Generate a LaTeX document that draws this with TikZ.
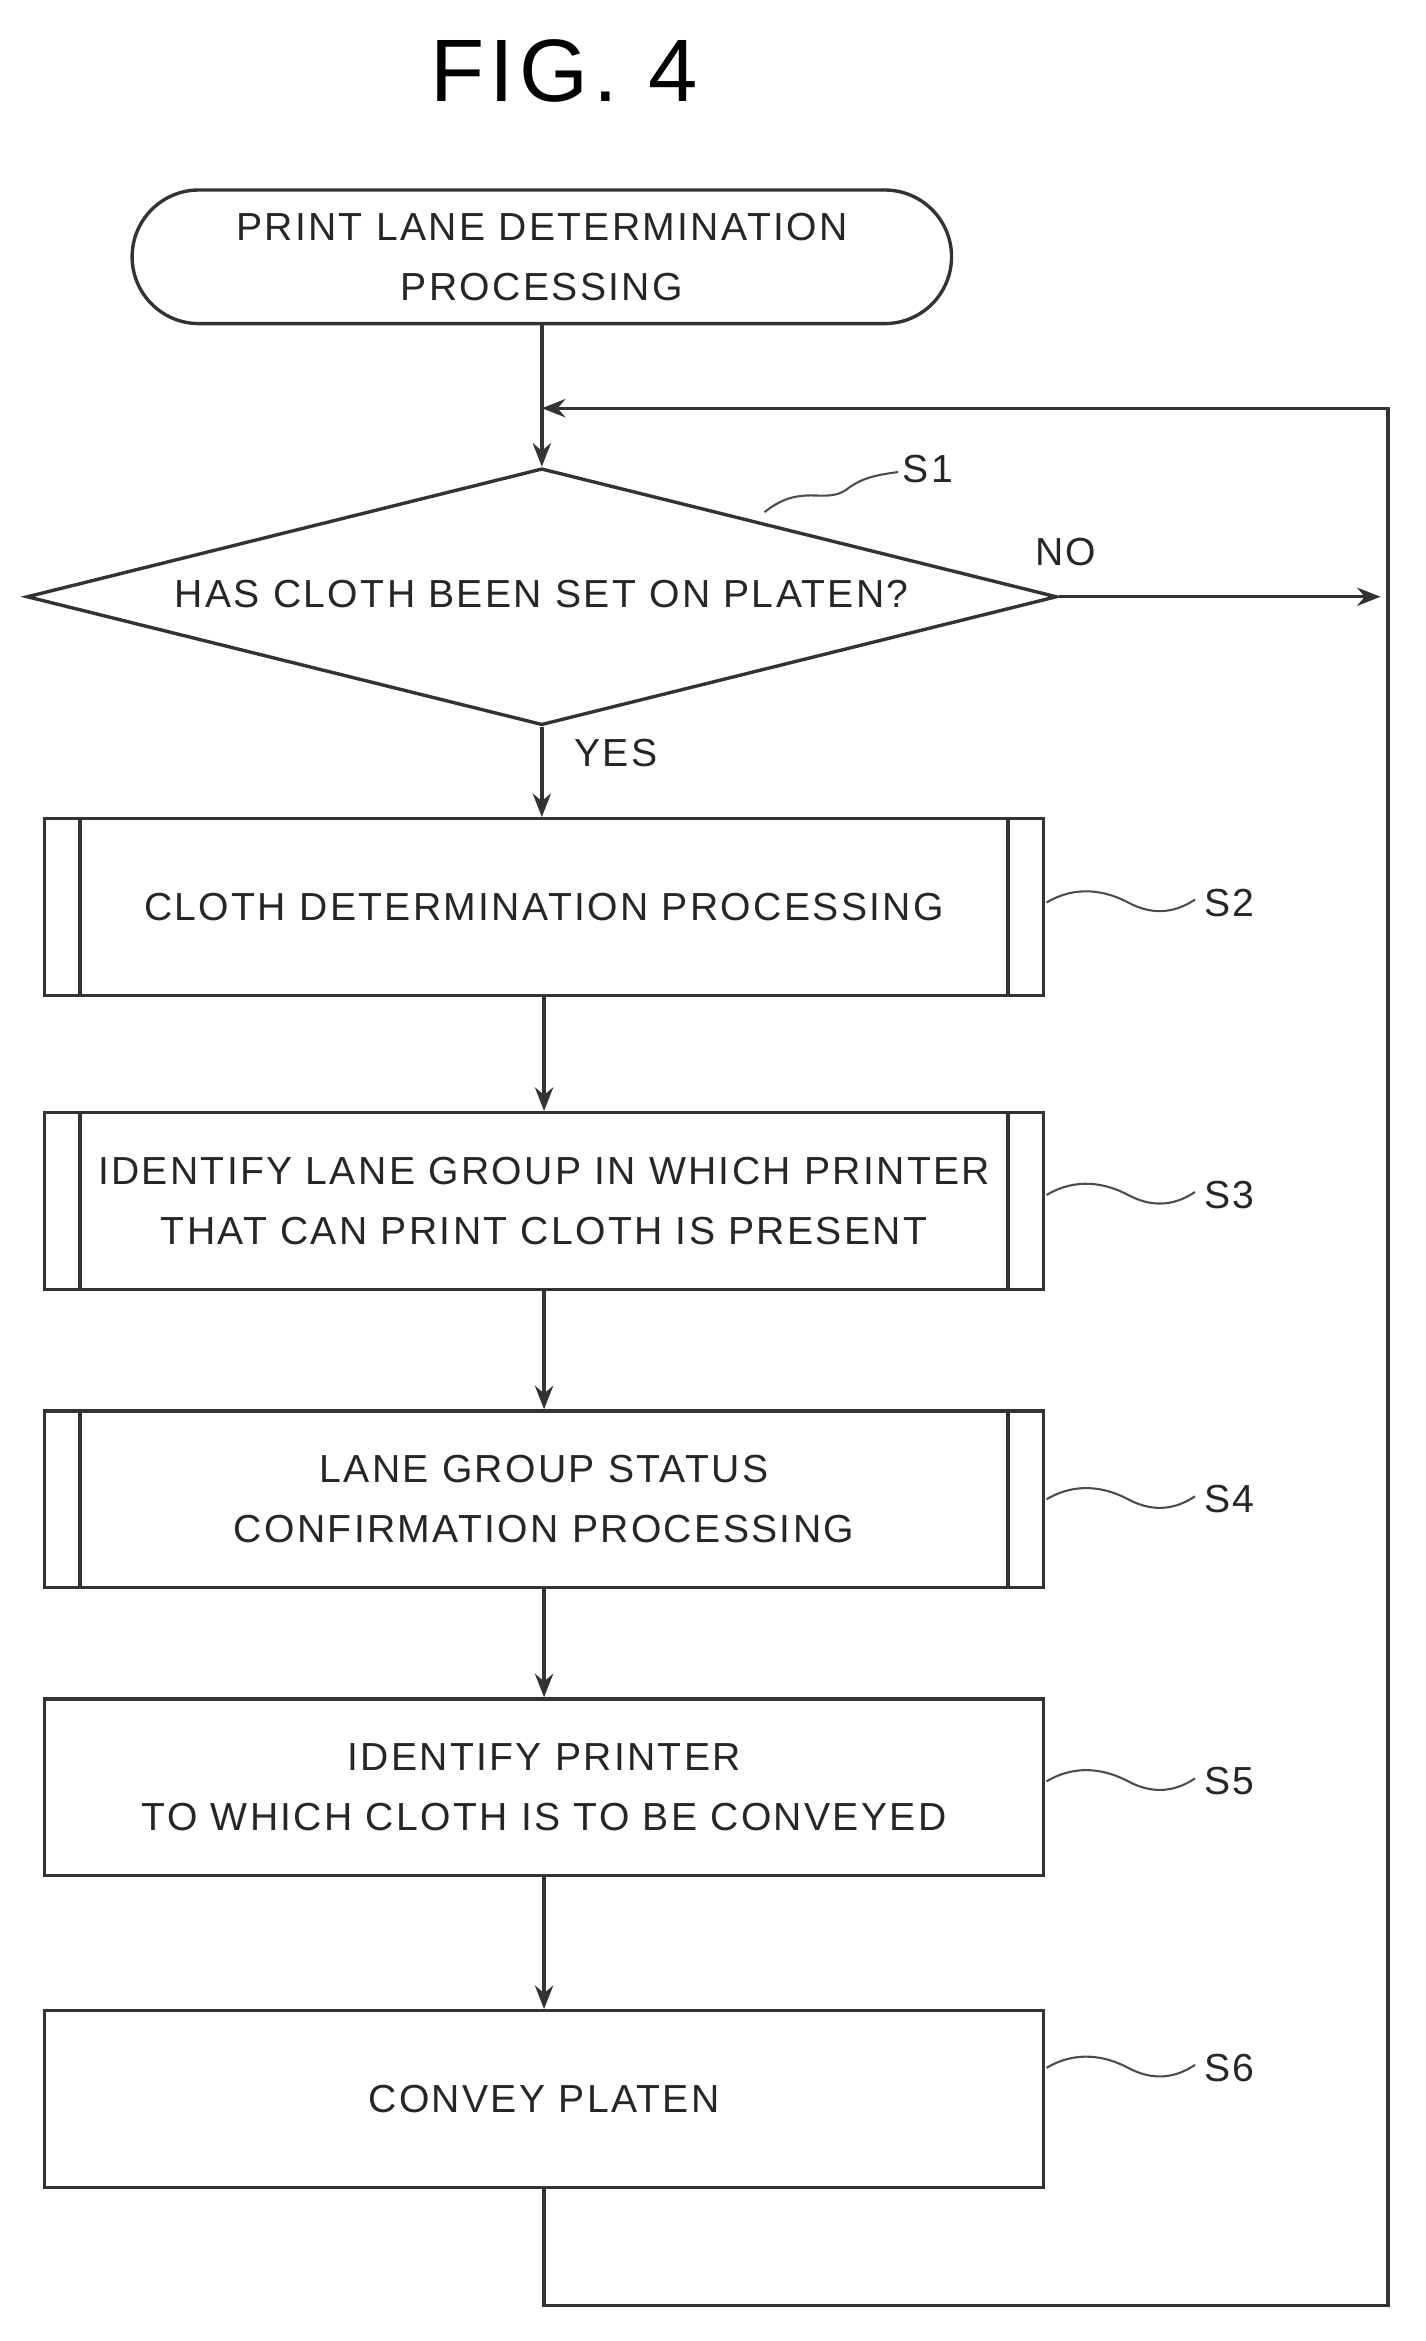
\documentclass[tikz,border=0pt]{standalone}
\usepackage{fontspec}
\setmainfont{Liberation Sans}[LetterSpace=6]
\usetikzlibrary{arrows.meta,shapes.geometric}
\begin{document}
\begin{tikzpicture}[x=0.02cm,y=-0.02cm,
  ln/.style={line width=1.3pt,draw=black!80},
  arr/.style={ln,-{Stealth[length=9pt,width=7pt]}},
  txt/.style={font=\fontsize{15}{23}\selectfont,align=center,text=black!85},
  box/.style={ln,draw,minimum width=673*0.02cm,minimum height=119*0.02cm,txt},
  lab/.style={font=\fontsize{15}{18}\selectfont,text=black!85},
  sq/.style={line width=0.8pt,draw=black!70}]
\useasboundingbox (0,0) rectangle (960,1577);
\node[font=\fontsize{34}{40}\selectfont] (title) at (380,48) {FIG. 4};
\node[ln,draw,rounded corners=45*0.02cm,minimum width=552*0.02cm,minimum height=90*0.02cm,txt] (t) at (365,173) {PRINT LANE DETERMINATION\\PROCESSING};
\node[ln,draw,diamond,aspect=4,minimum width=694*0.02cm,minimum height=173*0.02cm,inner sep=0pt,txt] (d) at (365,402) {};
\node[txt] at (365,400) {HAS CLOTH BEEN SET ON PLATEN?};
\node[box] (s2) at (366.5,611) {CLOTH DETERMINATION PROCESSING};
\node[box] (s3) at (366.5,809) {IDENTIFY LANE GROUP IN WHICH PRINTER\\THAT CAN PRINT CLOTH IS PRESENT};
\node[box] (s4) at (366.5,1010) {LANE GROUP STATUS\\CONFIRMATION PROCESSING};
\node[box] (s5) at (366.5,1204) {IDENTIFY PRINTER\\TO WHICH CLOTH IS TO BE CONVEYED};
\node[box] (s6) at (366.5,1414) {CONVEY PLATEN};
\foreach \n in {s2,s3,s4}{
  \draw[ln] ([xshift=25*0.02cm]\n.north west) -- ([xshift=25*0.02cm]\n.south west);
  \draw[ln] ([xshift=-25*0.02cm]\n.north east) -- ([xshift=-25*0.02cm]\n.south east);}
\coordinate (j) at (365,275);
\coordinate (br) at (935,1553);
\coordinate (tr) at (935,275);
\coordinate (no) at (930,402);
\draw[ln] (t.south) -- (j);
\draw[arr] (j) -- (d.north);
\draw[arr] (d.south) -- (d.south |- s2.north);
\draw[arr] (s2.south) -- (s3.north);
\draw[arr] (s3.south) -- (s4.north);
\draw[arr] (s4.south) -- (s5.north);
\draw[arr] (s5.south) -- (s6.north);
\draw[arr] (s6.south) |- (br) -- (tr) -- (j);
\draw[arr] (d.east) -- (no);
\node[lab] at (718,372) {NO};
\node[lab] at (415,507) {YES};
\node[lab] (l1) at (625,316) {S1};
\draw[sq] (515,345) .. controls (540,325) and (555,340) .. (570,330) .. controls (580,322) and (590,320) .. (605,318);
\foreach \n/\y/\l in {s2/608/S2,s3/805/S3,s4/1010/S4,s5/1200/S5,s6/1393/S6}{
  \node[lab] (L\l) at (828,\y) {\l};
  \draw[sq] (705,\y) .. controls (725,\y-12) and (745,\y-8) .. (760,\y) .. controls (775,\y+8) and (790,\y+8) .. (805,\y-2);}
\end{tikzpicture}
\end{document}
